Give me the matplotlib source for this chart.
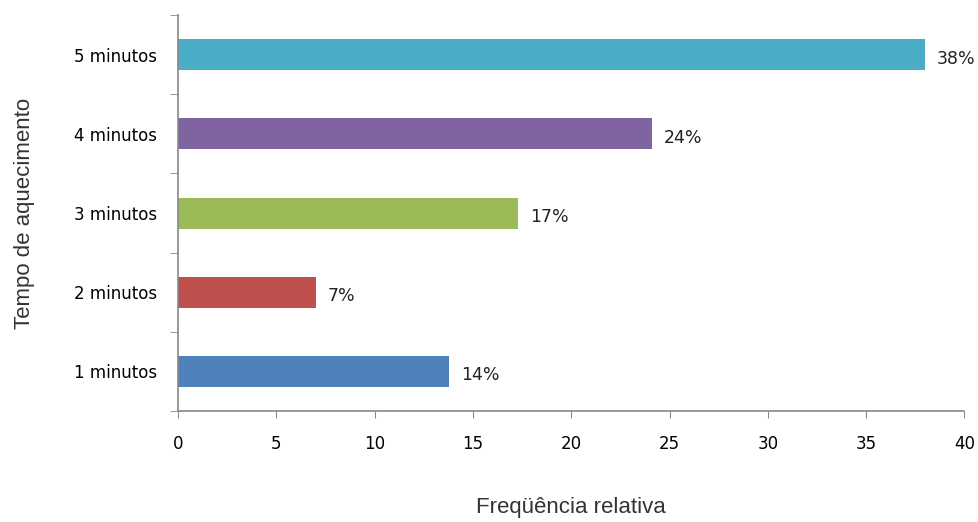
import matplotlib
matplotlib.use("Agg")
import matplotlib.pyplot as plt
import numpy as np

categories = ["1 minutos", "2 minutos", "3 minutos", "4 minutos", "5 minutos"]
values = [13.8, 7.0, 17.3, 24.1, 38.0]
labels = ["14%", "7%", "17%", "24%", "38%"]
colors = ["#4F81BD", "#C0504D", "#9BBB59", "#8064A2", "#4BACC6"]
xticks = [0, 5, 10, 15, 20, 25, 30, 35, 40]

plt.rcParams['font.family'] = ['DejaVu Sans']

fig = plt.figure(figsize=(9.79, 5.22), dpi=100)
ax = fig.add_axes([0.182, 0.2126, 0.803, 0.7584])

y = np.arange(len(categories))
ax.barh(y, values, height=0.39, color=colors)
for yi, v, lab in zip(y, values, labels):
    ax.text(v + 0.6, yi - 0.05, lab, va='center', ha='left', fontsize=12.5, color='#222222')

ax.set_xlim(0, 40)
ax.set_ylim(-0.5, 4.5)
ax.set_xticks(xticks)
ax.set_xticklabels([str(t) for t in xticks], fontsize=12)
ax.set_yticks(y)
ax.set_yticklabels(categories, fontsize=12)
ax.set_yticks(np.arange(-0.5, 5.0, 1.0), minor=True)
ax.tick_params(axis='y', which='major', length=0, pad=15)
ax.tick_params(axis='y', which='minor', length=6, color='#888888', direction='out')
ax.tick_params(axis='x', length=5, color='#888888', direction='out', pad=12)

for s in ['top', 'right']:
    ax.spines[s].set_visible(False)
for s in ['left', 'bottom']:
    ax.spines[s].set_color('#888888')
    ax.spines[s].set_linewidth(1.2)

ax.set_xlabel("Freqüência relativa", fontsize=16, labelpad=32, color='#333333',
              family=['Liberation Sans', 'DejaVu Sans'])
ax.set_ylabel("Tempo de aquecimento", fontsize=16, labelpad=28, color='#333333',
              family=['Liberation Sans', 'DejaVu Sans'])

fig.savefig("out.png", dpi=100)
